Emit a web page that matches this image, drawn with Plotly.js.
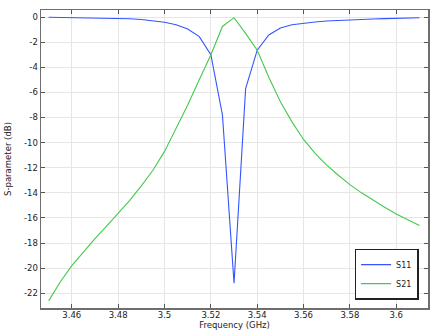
<!DOCTYPE html>
<html>
<head>
<meta charset="utf-8">
<script src="https://cdn.plot.ly/plotly-3.0.1.min.js"></script>
<style>
html,body{margin:0;padding:0;background:#fff;}
#chart{width:435px;height:331px;}
</style>
</head>
<body>
<div id="chart"></div>
<script>
// Frequency (GHz)
var freq = [3.45,3.455,3.46,3.465,3.47,3.475,3.48,3.485,3.49,3.495,3.5,3.505,3.51,3.515,3.52,3.525,3.53,3.535,3.54,3.545,3.55,3.555,3.56,3.565,3.57,3.575,3.58,3.585,3.59,3.595,3.6,3.605,3.61];
// S11 (dB)
var s11 = [-0.02,-0.03,-0.04,-0.05,-0.07,-0.08,-0.10,-0.14,-0.20,-0.30,-0.42,-0.62,-0.95,-1.56,-3.0,-7.8,-21.2,-5.7,-2.64,-1.43,-0.88,-0.62,-0.48,-0.39,-0.32,-0.27,-0.23,-0.20,-0.16,-0.13,-0.10,-0.08,-0.06];
// S21 (dB)
var s21 = [-22.6,-21.1,-19.8,-18.7,-17.65,-16.65,-15.65,-14.6,-13.45,-12.2,-10.7,-8.9,-7.0,-5.0,-3.0,-0.75,-0.05,-1.3,-2.64,-4.8,-6.75,-8.35,-9.75,-10.85,-11.8,-12.6,-13.35,-14.0,-14.6,-15.15,-15.68,-16.15,-16.6];
// Tick labels
var xTickVals = [3.46,3.48,3.5,3.52,3.54,3.56,3.58,3.6];
var xTickText = ["3.46","3.48","3.5","3.52","3.54","3.56","3.58","3.6"];
var yTickVals = [0,-2,-4,-6,-8,-10,-12,-14,-16,-18,-20,-22];
var yTickText = ["0","-2","-4","-6","-8","-10","-12","-14","-16","-18","-20","-22"];

var font = "DejaVu Sans, sans-serif";
var traces = [
  {x: freq, y: s11, name: "S11", mode: "lines", type: "scatter",
   line: {color: "#3355ff", width: 1.1}},
  {x: freq, y: s21, name: "S21", mode: "lines", type: "scatter",
   line: {color: "#45c94c", width: 1.1}}
];
var axisCommon = {
  showline: true, mirror: "ticks", linecolor: "#6e6e6e", linewidth: 1.5,
  ticks: "inside", ticklen: 4, tickcolor: "#555", tickwidth: 1,
  showgrid: true, gridcolor: "#e6e6e6", gridwidth: 1, zeroline: false,
  tickfont: {family: font, size: 8.5, color: "#222"}
};
var layout = {
  width: 435, height: 331,
  margin: {l: 41, r: 7, t: 10, b: 23, pad: 0},
  paper_bgcolor: "#fff", plot_bgcolor: "#fff",
  showlegend: true,
  legend: {x: 0.9757, y: 0.028, xanchor: "right", yanchor: "bottom",
    bgcolor: "#fff", bordercolor: "#222", borderwidth: 1.5,
    font: {family: font, size: 8, color: "#222"},
    tracegroupgap: 0, itemwidth: 30},
  xaxis: Object.assign({}, axisCommon, {
    range: [3.4467, 3.6137], tickmode: "array", tickvals: xTickVals, ticktext: xTickText,
    ticklabelstandoff: -2,
    title: {text: "Frequency (GHz)", font: {family: font, size: 8.5, color: "#222"}, standoff: 0}
  }),
  yaxis: Object.assign({}, axisCommon, {
    range: [-23.17, 0.56], tickmode: "array", tickvals: yTickVals, ticktext: yTickText,
    title: {text: "S-parameter (dB)", font: {family: font, size: 8.5, color: "#222"}, standoff: 11}
  })
};
Plotly.newPlot("chart", traces, layout, {displayModeBar: false, staticPlot: true});
</script>
</body>
</html>
